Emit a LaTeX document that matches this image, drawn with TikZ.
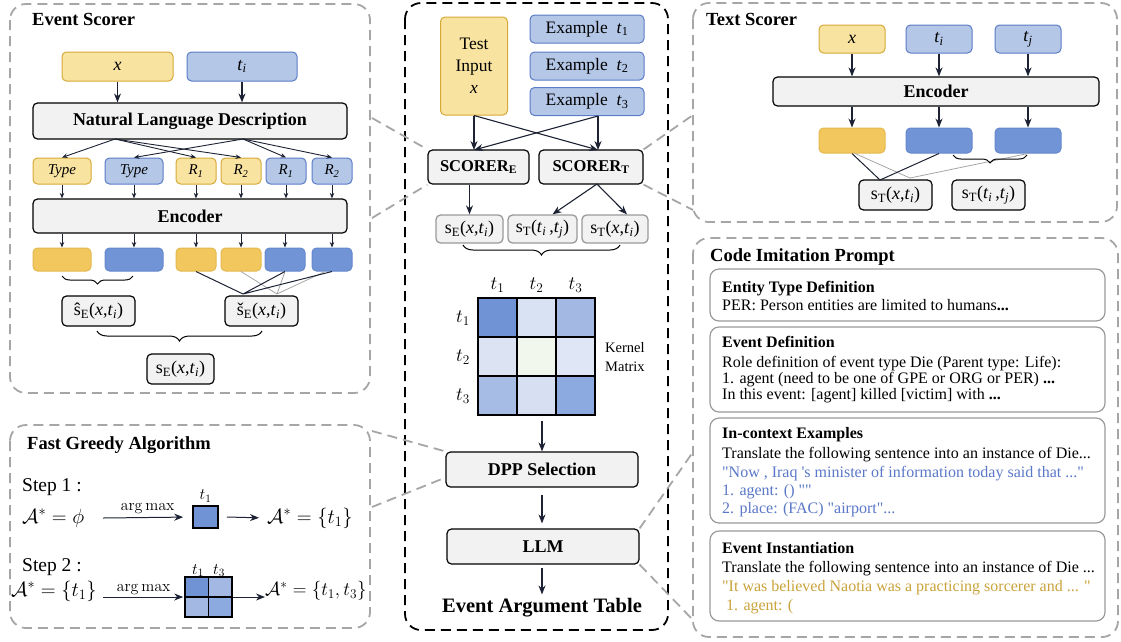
\RequirePackage{fix-cm}
\documentclass[tikz,border=0pt]{standalone}
\usepackage[no-math]{fontspec}
\setmainfont{Liberation Serif}[Ligatures=TeXOff]
\usetikzlibrary{arrows.meta,decorations.pathreplacing,calc}
\definecolor{yfill}{HTML}{F9E3A1}
\definecolor{ydraw}{HTML}{D6A937}
\definecolor{bfill}{HTML}{B4C7E7}
\definecolor{bdraw}{HTML}{5B7CC7}
\definecolor{yout}{HTML}{F2C85E}
\definecolor{youtd}{HTML}{E3B84E}
\definecolor{bout}{HTML}{7094D6}
\definecolor{boutd}{HTML}{6588CC}
\definecolor{gboxc}{HTML}{F2F2F2}
\definecolor{pgray}{HTML}{A6A6A6}
\definecolor{cgray}{HTML}{9A9A9A}
\definecolor{arrc}{HTML}{1C2233}
\definecolor{txtblue}{HTML}{5A77C8}
\definecolor{txtgold}{HTML}{C9A23B}
\definecolor{k11}{HTML}{6F93D5}
\definecolor{k12}{HTML}{D9E2F3}
\definecolor{k13}{HTML}{A3B9E3}
\definecolor{k21}{HTML}{DCE4F4}
\definecolor{k22}{HTML}{F2F7EE}
\definecolor{k23}{HTML}{DFE6F5}
\definecolor{k31}{HTML}{A6BCE4}
\definecolor{k32}{HTML}{D6E0F2}
\definecolor{k33}{HTML}{8CA9E0}
\newcommand\fsz[2]{\fontsize{#1}{#2}\selectfont}
\tikzset{
 basebox/.style={rectangle, rounded corners=4.5pt, line width=1pt, inner sep=0pt},
 ybox/.style={basebox, fill=yfill, draw=ydraw},
 bbox/.style={basebox, fill=bfill, draw=bdraw},
 yo/.style={basebox, fill=yout, draw=youtd},
 bo/.style={basebox, fill=bout, draw=boutd},
 gb/.style={basebox, fill=gboxc, draw=black, line width=1.2pt},
 sgb/.style={basebox, fill=gboxc, draw=cgray, line width=1.3pt},
 cbox/.style={rounded corners=9pt, draw=cgray, line width=1.2pt},
 panelbox/.style={draw=pgray, line width=1.8pt, dash pattern=on 10pt off 6pt, rounded corners=16pt},
 zoomline/.style={draw=pgray, line width=1.8pt, dash pattern=on 10pt off 6pt},
 arr/.style={draw=arrc, line width=1.1pt, -{Stealth[length=9pt,width=7pt]}},
 sarr/.style={draw=arrc, line width=0.9pt, -{Stealth[length=5.5pt,width=4.5pt]}},
 brc/.style={draw=black, line width=1pt, decorate, decoration={brace,mirror,amplitude=8pt}},
 lbl/.style={inner sep=0pt},
 ttl/.style={inner sep=0pt, anchor=base west, font=\fsz{18.5}{22}\bfseries},
 ctext/.style={inner sep=0pt, anchor=base west, font=\fsz{16}{19}},
 chead/.style={inner sep=0pt, anchor=base west, font=\fsz{16}{19}\bfseries},
}
\begin{document}
\begin{tikzpicture}[x=1pt,y=-1pt]
\useasboundingbox (0,0) rectangle (1121,641);

% ===== panels =====
\draw[panelbox] (10,4) rectangle (370,393);
\draw[panelbox] (10,425) rectangle (370,628);
\draw[panelbox] (693,3) rectangle (1117,222);
\draw[panelbox] (693,238) rectangle (1118,637);
\draw[draw=black, line width=1.8pt, dash pattern=on 10pt off 6pt, rounded corners=16pt] (405,3) rectangle (668,630);

% ===== Event Scorer =====
\node[ttl] (esT) at (32,25) {Event Scorer};
\node[ybox, minimum width=111pt, minimum height=29pt, font=\fsz{18}{20}\itshape] (esx) at (117.5,66.5) {x};
\node[bbox, minimum width=110pt, minimum height=29pt, font=\fsz{18}{20}] (esti) at (242,66.5) {\textit{t}\textsubscript{\textit{i}}};
\node[gb, minimum width=314pt, minimum height=36pt, font=\fsz{18}{20}\bfseries] (nld) at (190,121) {Natural Language Description};
\draw[arr] (esx.south) -- (esx.south |- nld.north);
\draw[arr] (esti.south) -- (esti.south |- nld.north);

\node[ybox, minimum width=58pt, minimum height=26pt, font=\fsz{15}{17}\itshape] (sty) at (62,171) {Type};
\node[bbox, minimum width=58pt, minimum height=26pt, font=\fsz{15}{17}\itshape] (sbt) at (134,171) {Type};
\node[ybox, minimum width=40pt, minimum height=26pt, font=\fsz{15}{17}] (sr1y) at (196,171) {\textit{R}\textsubscript{\textit{1}}};
\node[ybox, minimum width=40pt, minimum height=26pt, font=\fsz{15}{17}] (sr2y) at (241,171) {\textit{R}\textsubscript{\textit{2}}};
\node[bbox, minimum width=40pt, minimum height=26pt, font=\fsz{15}{17}] (sr1b) at (286,171) {\textit{R}\textsubscript{\textit{1}}};
\node[bbox, minimum width=40pt, minimum height=26pt, font=\fsz{15}{17}] (sr2b) at (332,171) {\textit{R}\textsubscript{\textit{2}}};
\coordinate (nA) at (115,139);
\coordinate (nB) at (243,139);
\foreach \t in {sty,sr1y,sr2y} \draw[sarr] (nA) -- (\t.north);
\foreach \t in {sbt,sr1b,sr2b} \draw[sarr] (nB) -- (\t.north);

\node[gb, minimum width=314pt, minimum height=34pt, font=\fsz{18}{20}\bfseries] (enc) at (190,216) {Encoder};
\foreach \t in {sty,sbt,sr1y,sr2y,sr1b,sr2b} \draw[sarr] (\t.south) -- (\t.south |- enc.north);

\node[yo, minimum width=58pt, minimum height=23pt] (o1) at (62,259.5) {};
\node[bo, minimum width=58pt, minimum height=23pt] (o2) at (134,259.5) {};
\node[yo, minimum width=40pt, minimum height=23pt] (o3) at (196,259.5) {};
\node[yo, minimum width=40pt, minimum height=23pt] (o4) at (241,259.5) {};
\node[bo, minimum width=40pt, minimum height=23pt] (o5) at (285,259.5) {};
\node[bo, minimum width=40pt, minimum height=23pt] (o6) at (332,259.5) {};
\foreach \t in {o1,o2,o3,o4,o5,o6} \draw[sarr] (enc.south -| \t.north) -- (\t.north);

\draw[brc] (62,276) -- (133,276);
\node[gb, minimum width=73pt, minimum height=30pt, font=\fsz{18}{20}] (hs) at (98.5,311) {\^{s}\textsubscript{E}(\textit{x},\textit{t}\textsubscript{\textit{i}})};
\node[gb, minimum width=73pt, minimum height=30pt, font=\fsz{18}{20}] (cs) at (261.5,311) {\v{s}\textsubscript{E}(\textit{x},\textit{t}\textsubscript{\textit{i}})};
\coordinate (cj) at (243,294);
\coordinate (gj) at (277,294);
\draw[gray!70, line width=0.8pt] (o4.south) -- (gj) (o5.south) -- (gj) ($(o6.south)+(-7,0)$) -- (gj);
\draw[arrc, line width=1pt] (o3.south) -- (cj) (o5.south) -- (cj) (o6.south) -- (cj);
\draw[brc, decoration={amplitude=10pt}] (97,331) -- (262,331);
\node[gb, minimum width=67pt, minimum height=30pt, font=\fsz{18}{20}] (seb) at (180.5,369) {s\textsubscript{E}(\textit{x},\textit{t}\textsubscript{\textit{i}})};

% ===== Fast Greedy =====
\node[ttl] (fgT) at (27,449) {Fast Greedy Algorithm};
\node[lbl, anchor=base west, font=\fsz{19.5}{22}] (st1) at (22,491) {Step 1 :};
\node[lbl, anchor=west, font=\fsz{20.5}{23}] (a1) at (22,518) {$\mathcal{A}^* = \phi$};
\coordinate (f1a) at (103,518);
\node[draw=black, line width=1.6pt, fill=k11, minimum width=25pt, minimum height=22pt, inner sep=0pt] (sq1) at (205.5,517) {};
\draw[arr, line width=1pt, shorten >=9pt] (f1a) -- (sq1.west) node[midway, above=3pt, lbl, font=\fsz{16}{18}] (am1) {$\arg\max$};
\node[lbl, anchor=south, font=\fsz{16}{18}] (sq1t) at ($(sq1.north)+(0,-3)$) {$t_1$};
\node[lbl, anchor=west, font=\fsz{20.5}{23}] (a2) at (267,518) {$\mathcal{A}^* = \{t_1\}$};
\draw[arr, line width=1pt, shorten >=8pt] ($(sq1.east)+(8,0)$) -- (a2.west);

\node[lbl, anchor=base west, font=\fsz{19.5}{22}] (st2) at (22,571) {Step 2 :};
\node[lbl, anchor=west, font=\fsz{20.5}{23}] (a3) at (11,591) {$\mathcal{A}^* = \{t_1\}$};
\fill[k11] (185,577) rectangle (208.5,597);
\fill[k13] (208.5,577) rectangle (232,597);
\fill[k13] (185,597) rectangle (208.5,617);
\fill[k33] (208.5,597) rectangle (232,617);
\node[draw=black, line width=1.6pt, minimum width=47pt, minimum height=40pt, inner sep=0pt] (sq2) at (208.5,597) {};
\draw[line width=1.3pt] (208.5,577) -- (208.5,617) (185,597) -- (232,597);
\coordinate (f2a) at (103,597);
\draw[arr, line width=1pt, shorten >=1pt] (f2a) -- (sq2.west) node[midway, above=2pt, lbl, font=\fsz{16}{18}] (am2) {$\arg\max$};
\node[lbl, anchor=south, font=\fsz{16}{18}] (sq2a) at (198,577) {$t_1$};
\node[lbl, anchor=south, font=\fsz{16}{18}] (sq2b) at (219,577) {$t_3$};
\node[lbl, anchor=west, font=\fsz{19}{22}] (a4) at (265,591) {$\mathcal{A}^* = \{t_1,t_3\}$};
\draw[arr, line width=1pt] (sq2.east) -- (a4.west |- sq2.east);

% ===== Center =====
\node[ybox, minimum width=67pt, minimum height=98pt, align=center, font=\fsz{17.5}{22}] (tin) at (474,66) {Test\\Input\\\textit{x}};
\node[bbox, minimum width=114pt, minimum height=28pt, font=\fsz{17.5}{20}] (ex1) at (587,29) {Example~~\textit{t}\textsubscript{1}};
\node[bbox, minimum width=114pt, minimum height=28pt, font=\fsz{17.5}{20}] (ex2) at (587,66) {Example~~\textit{t}\textsubscript{2}};
\node[bbox, minimum width=114pt, minimum height=28pt, font=\fsz{17.5}{20}] (ex3) at (587,101.5) {Example~~\textit{t}\textsubscript{3}};
\node[gb, minimum width=101pt, minimum height=34pt, font=\fsz{16.5}{20}\bfseries] (scE) at (478.5,167) {SCORER\textsubscript{E}};
\node[gb, minimum width=104pt, minimum height=34pt, font=\fsz{16.5}{20}\bfseries] (scT) at (591,167) {SCORER\textsubscript{T}};
\coordinate (tE) at (474,150);
\coordinate (tT) at (598,150);
\coordinate (ex3s) at (598,116);
\draw[arr] (tin.south) -- (tE);
\draw[arr] (tin.south) -- (tT);
\draw[arr] (ex3s) -- (tT);
\draw[arr] (ex3s) -- (tE);

\node[sgb, minimum width=67pt, minimum height=28pt, font=\fsz{18}{20}] (sE) at (469.5,229) {s\textsubscript{E}(\textit{x},\textit{t}\textsubscript{\textit{i}})};
\node[sgb, minimum width=69pt, minimum height=28pt, font=\fsz{18}{20}] (sT1) at (542.5,229) {s\textsubscript{T}(\textit{t}\textsubscript{\textit{i}}\,,\textit{t}\textsubscript{\textit{j}})};
\node[sgb, minimum width=66pt, minimum height=28pt, font=\fsz{18}{20}] (sT2) at (615,229) {s\textsubscript{T}(\textit{x},\textit{t}\textsubscript{\textit{i}})};
\draw[arr] (scE.south -| sE.north) -- (sE.north);
\coordinate (scTs) at (597,184);
\draw[arr] (scTs) -- ($(sT1.north)+(10,0)$);
\draw[arr] (scTs) -- ($(sT2.north)+(12,0)$);
\draw[brc, decoration={amplitude=10pt}] (463,245) -- (620,245);

% kernel matrix
\fill[k11] (478,298) rectangle (517,337);
\fill[k12] (517,298) rectangle (556,337);
\fill[k13] (556,298) rectangle (595,337);
\fill[k21] (478,337) rectangle (517,376);
\fill[k22] (517,337) rectangle (556,376);
\fill[k23] (556,337) rectangle (595,376);
\fill[k31] (478,376) rectangle (517,415);
\fill[k32] (517,376) rectangle (556,415);
\fill[k33] (556,376) rectangle (595,415);
\node[draw=black, line width=1.3pt, minimum width=117pt, minimum height=117pt, inner sep=0pt] (km) at (536.5,356.5) {};
\draw[line width=1.3pt] (517,298) -- (517,415) (556,298) -- (556,415) (478,337) -- (595,337) (478,376) -- (595,376);
\node[lbl, font=\fsz{19}{22}] (c1) at (497.5,285) {$t_1$};
\node[lbl, font=\fsz{19}{22}] (c2) at (536.5,285) {$t_2$};
\node[lbl, font=\fsz{19}{22}] (c3) at (575.5,285) {$t_3$};
\node[lbl, font=\fsz{19}{22}] (r1) at (463,318) {$t_1$};
\node[lbl, font=\fsz{19}{22}] (r2) at (463,357) {$t_2$};
\node[lbl, font=\fsz{19}{22}] (r3) at (463,396) {$t_3$};
\node[lbl, align=left, anchor=west, font=\fsz{14.5}{19}] (kml) at (605,357) {Kernel\\Matrix};

\node[gb, minimum width=192pt, minimum height=35pt, font=\fsz{18}{20}\bfseries] (dpp) at (542,469.5) {DPP Selection};
\draw[arr] ($(km.south)+(5.5,5)$) -- (dpp.north -| 542,0);
\node[gb, minimum width=192pt, minimum height=35pt, font=\fsz{18}{20}\bfseries] (llm) at (543,546.5) {LLM};
\draw[arr, shorten <=7pt, shorten >=5pt] (dpp.south -| 542,0) -- (llm.north -| 542,0);
\node[lbl, font=\fsz{20.5}{24}\bfseries] (eat) at (542,608) {Event Argument Table};
\draw[arr, shorten <=3pt, shorten >=4pt] (llm.south -| 542,0) -- (eat.north -| 542,0);

% ===== Text Scorer =====
\node[ttl] (tsT) at (706,25) {Text Scorer};
\node[ybox, minimum width=66pt, minimum height=28pt, font=\fsz{18}{20}\itshape] (tsx) at (852,39) {x};
\node[bbox, minimum width=66pt, minimum height=28pt, font=\fsz{18}{20}] (tsi) at (939,39) {\textit{t}\textsubscript{\textit{i}}};
\node[bbox, minimum width=66pt, minimum height=28pt, font=\fsz{18}{20}] (tsj) at (1028,39) {\textit{t}\textsubscript{\textit{j}}};
\node[gb, minimum width=326pt, minimum height=29pt, font=\fsz{18}{20}\bfseries] (tsenc) at (936,91.5) {Encoder};
\foreach \t in {tsx,tsi,tsj} \draw[arr] (\t.south) -- (\t.south |- tsenc.north);
\node[yo, minimum width=66pt, minimum height=25pt] (tox) at (852,140.5) {};
\node[bo, minimum width=66pt, minimum height=25pt] (toi) at (939,140.5) {};
\node[bo, minimum width=66pt, minimum height=25pt] (toj) at (1028,140.5) {};
\foreach \t in {tox,toi,toj} \draw[arr] (tsenc.south -| \t.north) -- (\t.north);
\node[gb, minimum width=73pt, minimum height=30pt, font=\fsz{18}{20}] (stx) at (895.5,195) {s\textsubscript{T}(\textit{x},\textit{t}\textsubscript{\textit{i}})};
\node[gb, minimum width=73pt, minimum height=30pt, font=\fsz{18}{20}] (stij) at (988.5,195) {s\textsubscript{T}(\textit{t}\textsubscript{\textit{i}}\,,\textit{t}\textsubscript{\textit{j}})};
\coordinate (tcj) at (880,180);
\coordinate (tgj) at (910,178);
\draw[gray!70, line width=0.8pt] ($(tox.south)+(3,0)$) -- (tgj) -- (toj.south);
\draw[arrc, line width=1pt] (tox.south) -- (tcj) -- (toi.south);
\draw[brc, decoration={amplitude=8pt}] (953,155) -- (1027,155);

% ===== Code Imitation Prompt =====
\node[ttl] (ciT) at (710,261) {Code Imitation Prompt};
\draw[cbox] (710,269) rectangle (1105,321);
\draw[cbox] (710,327) rectangle (1105,412);
\draw[cbox] (710,418) rectangle (1105,523);
\draw[cbox] (710,531) rectangle (1105,621);
\node[chead] (h1) at (722,292) {Entity Type Definition};
\node[ctext] (l11) at (722,310) {PER: Person entities are limited to humans\textbf{...}};
\node[chead] (h2) at (722,347) {Event Definition};
\node[ctext] (l21) at (722,367) {Role definition of event type Die (Parent type: Life):};
\node[ctext] (l22) at (722,383) {1. agent (need to be one of GPE or ORG or PER) \textbf{...}};
\node[ctext] (l23) at (722,399) {In this event: [agent] killed [victim] with \textbf{...}};
\node[chead] (h3) at (722,438) {In-context Examples};
\node[ctext] (l31) at (722,458) {Translate the following sentence into an instance of Die...};
\node[ctext, text=txtblue] (l32) at (722,477) {"Now , Iraq 's minister of information today said that ..."};
\node[ctext, text=txtblue] (l33) at (722,495) {1. agent: () ""};
\node[ctext, text=txtblue] (l34) at (722,513) {2. place: (FAC) "airport"...};
\node[chead] (h4) at (722,553) {Event Instantiation};
\node[ctext] (l41) at (722,572) {Translate the following sentence into an instance of Die ...};
\node[ctext, text=txtgold] (l42) at (722,591) {"It was believed Naotia was a practicing sorcerer and ... "};
\node[ctext, text=txtgold] (l43) at (726,610) {1. agent: (};

% ===== zoom connectors =====
\coordinate (z1) at (372,118);
\coordinate (z2) at (372,218);
\coordinate (z3) at (693,115);
\coordinate (z4) at (693,210);
\coordinate (z5) at (372,431);
\coordinate (z6) at (372,507);
\coordinate (z7) at (693,452);
\coordinate (z8) at (693,620);
\draw[zoomline] (z1) -- (scE.north west);
\draw[zoomline] (z2) -- (scE.south west);
\draw[zoomline] (scT.north east) -- (z3);
\draw[zoomline] (scT.south east) -- (z4);
\draw[zoomline] (z5) -- (dpp.north west);
\draw[zoomline] (z6) -- ($(dpp.south west)+(0,-10)$);
\draw[zoomline] (llm.north east) -- (z7);
\draw[zoomline] (llm.south east) -- (z8);
\end{tikzpicture}
\end{document}
